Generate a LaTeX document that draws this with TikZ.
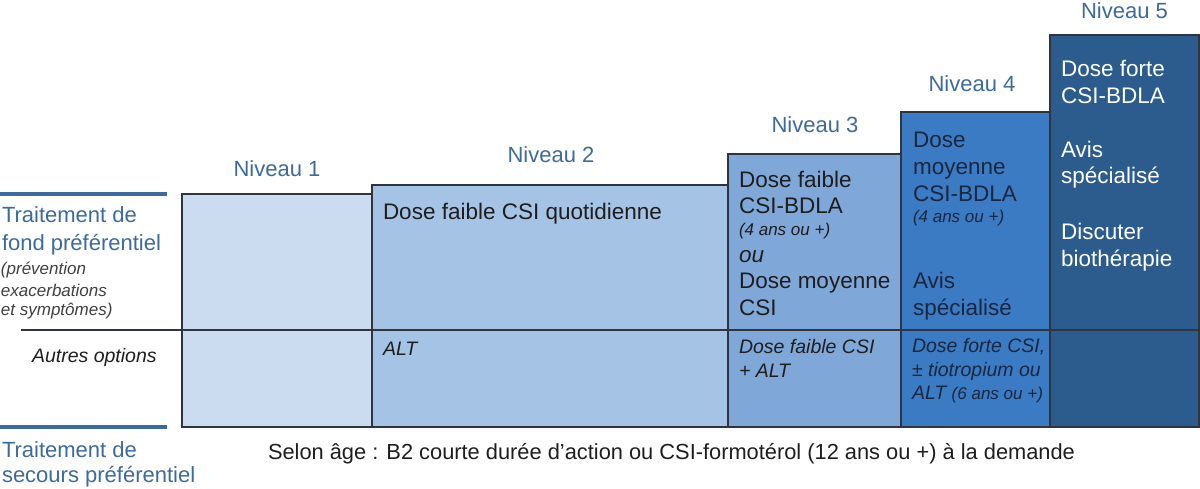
\documentclass[tikz,border=0pt]{standalone}
\usepackage{fontspec}
\setmainfont{Liberation Sans}
\definecolor{lvA}{HTML}{CCDCF0}
\definecolor{lvB}{HTML}{A5C3E5}
\definecolor{lvC}{HTML}{7FA8D9}
\definecolor{lvD}{HTML}{3B7BC3}
\definecolor{lvE}{HTML}{2C5C8E}
\definecolor{ttl}{HTML}{3D6A9E}
\definecolor{dtx}{HTML}{1E1E1E}
\definecolor{ntx}{HTML}{1A2740}
\definecolor{edge}{HTML}{2E3540}
\tikzset{
  every node/.style={inner sep=0pt, outer sep=0pt},
  lvlbox/.style={draw=edge, line width=1.2pt},
  niv/.style={anchor=base, text=ttl, font=\fontsize{22}{26}\selectfont},
  big/.style={anchor=base west, text=dtx, font=\fontsize{22.5}{27}\selectfont},
  bigit/.style={anchor=base west, text=dtx, font=\fontsize{22.5}{27}\selectfont\itshape},
  sml/.style={anchor=base west, text=dtx, font=\fontsize{17}{20}\selectfont\itshape},
  opt/.style={anchor=base west, text=dtx, font=\fontsize{19.5}{24}\selectfont\itshape},
  side/.style={anchor=base west, text=ttl, font=\fontsize{22}{27}\selectfont},
  sideit/.style={anchor=base west, text=dtx!85, font=\fontsize{17}{20}\selectfont\itshape},
  bar/.style={draw=ttl, line width=3.5pt},
}
\begin{document}
\begin{tikzpicture}[x=1pt, y=-1pt]
\useasboundingbox (0,0) rectangle (1200,489);
% boxes
\filldraw[lvlbox, fill=lvA] (182,194) rectangle (372,427);
\filldraw[lvlbox, fill=lvB] (372,185) rectangle (728,427);
\filldraw[lvlbox, fill=lvC] (728,154) rectangle (901,427);
\filldraw[lvlbox, fill=lvD] (901,112) rectangle (1050,427);
\filldraw[lvlbox, fill=lvE] (1050,35) rectangle (1199,427);
% divider
\coordinate (dl) at (21,330);
\coordinate (dr) at (1199,330);
\draw[line width=1.1pt, draw=edge] (dl) -- (dr);
% blue bars
\coordinate (b1l) at (0,194);
\coordinate (b1r) at (167,194);
\coordinate (b2l) at (0,427);
\coordinate (b2r) at (167,427);
\draw[bar] (b1l) -- (b1r);
\draw[bar] (b2l) -- (b2r);
% level titles
\node[niv] (n1) at (277,177) {Niveau 1};
\node[niv] (n2) at (551,163) {Niveau 2};
\node[niv] (n3) at (815,133) {Niveau 3};
\node[niv] (n4) at (972,92) {Niveau 4};
\node[niv] (n5) at (1124.5,19) {Niveau 5};
% left labels
\node[side] (s1) at (2,223) {Traitement de};
\node[side] (s2) at (2,251) {fond préférentiel};
\node[sideit] (s3) at (1,275) {(prévention};
\node[sideit] (s4) at (1,296) {exacerbations};
\node[sideit] (s5) at (1,315) {et symptômes)};
\node[opt] (ao) at (32,362) {Autres options};
\node[side] (s6) at (2,457) {Traitement de};
\node[side] (s7) at (2,482) {secours préférentiel};
% level 2
\node[big] (t2a) at (383,220) {Dose faible CSI quotidienne};
\node[opt] (t2b) at (383,355) {ALT};
% level 3
\node[big] (t3a) at (739,188) {Dose faible};
\node[big] (t3b) at (739,214) {CSI-BDLA};
\node[sml] (t3c) at (739,236) {(4 ans ou +)};
\node[bigit] (t3d) at (739,262) {ou};
\node[big] (t3e) at (739,289) {Dose moyenne};
\node[big] (t3f) at (739,316) {CSI};
\node[opt] (t3g) at (739,353) {Dose faible CSI};
\node[opt] (t3h) at (739,377) {+ ALT};
% level 4
\node[big, text=ntx] (t4a) at (913,148) {Dose};
\node[big, text=ntx] (t4b) at (913,175) {moyenne};
\node[big, text=ntx] (t4c) at (913,202) {CSI-BDLA};
\node[sml, text=ntx] (t4d) at (913,223) {(4 ans ou +)};
\node[big, text=ntx] (t4e) at (913,289) {Avis};
\node[big, text=ntx] (t4f) at (913,316) {spécialisé};
\node[opt, text=ntx] (t4g) at (912,352) {Dose forte CSI,};
\node[opt, text=ntx] (t4h) at (912,376) {± tiotropium ou};
\node[opt, text=ntx] (t4i) at (912,399) {ALT {\fontsize{17}{20}\selectfont (6 ans ou +)}};
% level 5
\node[big, text=white] (t5a) at (1061,77) {Dose forte};
\node[big, text=white] (t5b) at (1061,104) {CSI-BDLA};
\node[big, text=white] (t5c) at (1061,158) {Avis};
\node[big, text=white] (t5d) at (1061,184) {spécialisé};
\node[big, text=white] (t5e) at (1061,240) {Discuter};
\node[big, text=white] (t5f) at (1061,267) {biothérapie};
% rescue
\node[anchor=base west, text=dtx, font=\fontsize{20}{24}\selectfont] (rs) at (268,459)
  {\resizebox{807pt}{!}{Selon âge : B2 courte durée d’action ou CSI-formotérol (12 ans ou +) à la demande}};
\end{tikzpicture}
\end{document}
